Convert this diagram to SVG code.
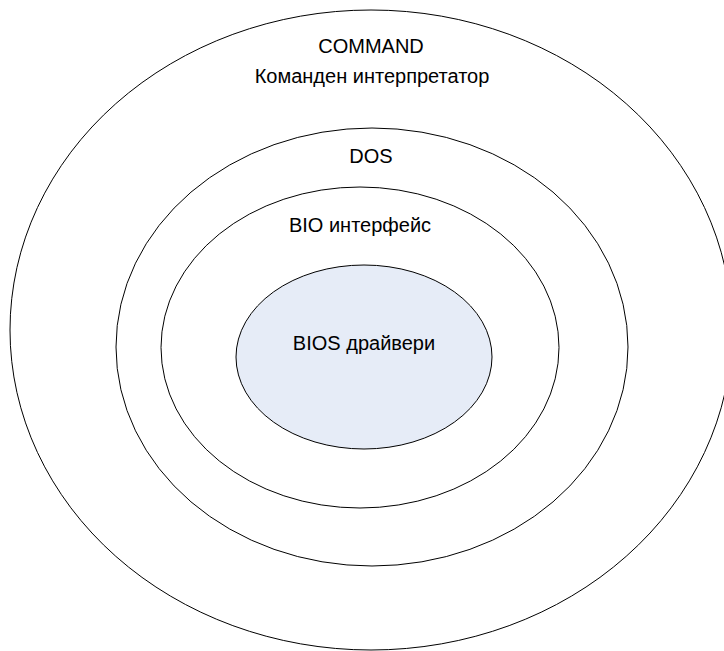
<svg xmlns="http://www.w3.org/2000/svg" width="724" height="651" viewBox="0 0 724 651">
<style>
.ring{fill:none;stroke:#000;stroke-width:1}
.core{fill:#E6ECF7;stroke:#000;stroke-width:1}
text{font-family:"Liberation Sans",Arial,sans-serif;font-size:20px;fill:#000;text-anchor:middle}
</style>
<rect width="724" height="651" fill="#fff"/>
<g id="command">
<ellipse class="ring" cx="371" cy="330" rx="361" ry="320"/>
<text x="371" y="53">COMMAND</text>
<text x="372" y="83">Команден интерпретатор</text>
</g>
<g id="dos">
<ellipse class="ring" cx="372" cy="347" rx="256" ry="219"/>
<text x="371" y="163">DOS</text>
</g>
<g id="bio">
<ellipse class="ring" cx="360" cy="347.5" rx="199" ry="160.5"/>
<text x="360" y="232">BIO интерфейс</text>
</g>
<g id="bios">
<ellipse class="core" cx="364" cy="357" rx="128" ry="92"/>
<text x="364" y="350">BIOS драйвери</text>
</g>
<g id="connectors"/>
</svg>
